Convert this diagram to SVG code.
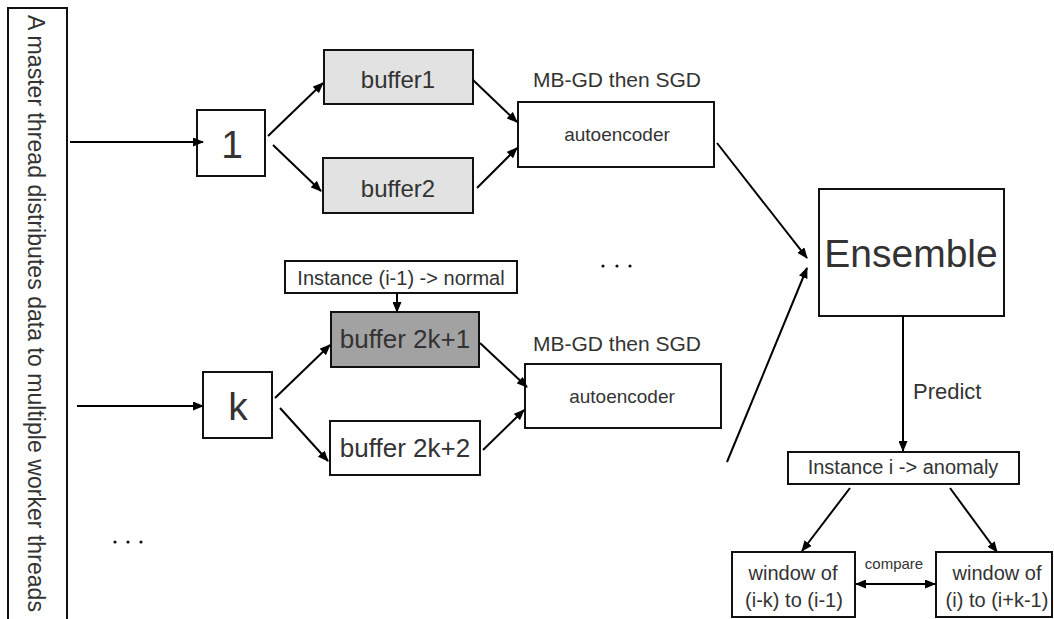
<svg xmlns="http://www.w3.org/2000/svg" width="1054" height="619" viewBox="0 0 1054 619">
<defs>
<marker id="ah" markerUnits="userSpaceOnUse" markerWidth="11" markerHeight="9" refX="10" refY="4.5" orient="auto-start-reverse" viewBox="0 0 11 9">
<path d="M0,0 L11,4.5 L0,9 z" fill="#000"/>
</marker>
<style>
.box{fill:#fff;stroke:#111;stroke-width:2}
.light{fill:#e2e2e2}
.dark{fill:#a2a2a2}
.t{font-family:"Liberation Sans",Arial,sans-serif;fill:#333;text-anchor:middle}
.c line{stroke:#000;stroke-width:2;marker-end:url(#ah)}
.dot{fill:#111}
</style>
</defs>
<rect width="1054" height="619" fill="#fff"/>

<g id="master">
<rect class="box" x="8" y="8" width="59" height="620"/>
<text class="t" style="text-anchor:start" font-size="23" transform="translate(28,15) rotate(90)" textLength="597" lengthAdjust="spacingAndGlyphs">A master thread distributes data to multiple worker threads</text>
</g>

<g id="node1">
<rect class="box" x="197" y="110" width="68" height="66"/>
<text class="t" x="232" y="158" font-size="39">1</text>
</g>
<g id="buffer1">
<rect class="box light" x="324" y="50" width="149" height="54"/>
<text class="t" x="398" y="88" font-size="24">buffer1</text>
</g>
<g id="buffer2">
<rect class="box light" x="323" y="158" width="150" height="55"/>
<text class="t" x="398" y="197" font-size="24">buffer2</text>
</g>
<g id="autoencoder1">
<text class="t" x="617" y="87" font-size="21">MB-GD then SGD</text>
<rect class="box" x="518" y="102" width="196" height="65"/>
<text class="t" x="617" y="141" font-size="19">autoencoder</text>
</g>

<g id="dots-mid">
<circle class="dot" cx="603" cy="266" r="1.6"/><circle class="dot" cx="617" cy="266" r="1.6"/><circle class="dot" cx="630" cy="266" r="1.6"/>
</g>
<g id="dots-bottom">
<circle class="dot" cx="115" cy="542" r="1.6"/><circle class="dot" cx="128" cy="542" r="1.6"/><circle class="dot" cx="141" cy="542" r="1.6"/>
</g>

<g id="instance-normal">
<rect class="box" x="285" y="261" width="232" height="32"/>
<text class="t" x="401" y="285" font-size="20">Instance (i-1) -&gt; normal</text>
</g>
<g id="nodek">
<rect class="box" x="203" y="372" width="69" height="66"/>
<text class="t" x="238" y="420" font-size="39">k</text>
</g>
<g id="buffer2k1">
<rect class="box dark" x="331" y="312" width="148" height="55"/>
<text class="t" x="405" y="348" font-size="26">buffer 2k+1</text>
</g>
<g id="buffer2k2">
<rect class="box" x="330" y="421" width="150" height="54"/>
<text class="t" x="405" y="457" font-size="26">buffer 2k+2</text>
</g>
<g id="autoencoder2">
<text class="t" x="617" y="351" font-size="21">MB-GD then SGD</text>
<rect class="box" x="525" y="364" width="196" height="64"/>
<text class="t" x="622" y="403" font-size="19">autoencoder</text>
</g>

<g id="ensemble">
<rect class="box" x="819" y="189" width="185" height="127"/>
<text class="t" x="911" y="267" font-size="39">Ensemble</text>
</g>
<g id="predict-label">
<text class="t" style="text-anchor:start" x="913" y="399" font-size="22">Predict</text>
</g>
<g id="instance-anomaly">
<rect class="box" x="788" y="452" width="231" height="32"/>
<text class="t" x="903" y="474" font-size="20">Instance i -&gt; anomaly</text>
</g>
<g id="window-left">
<rect class="box" x="732" y="552" width="123" height="65"/>
<text class="t" x="793" y="580" font-size="20">window of</text>
<text class="t" x="794" y="607" font-size="20">(i-k) to (i-1)</text>
</g>
<g id="window-right">
<rect class="box" x="936" y="552" width="116" height="65"/>
<text class="t" x="997" y="580" font-size="20">window of</text>
<text class="t" x="997" y="607" font-size="20">(i) to (i+k-1)</text>
</g>
<g id="compare-label">
<text class="t" x="894" y="569" font-size="15">compare</text>
</g>

<g id="connectors" class="c">
<line x1="70" y1="142" x2="203" y2="142"/>
<line x1="268" y1="136" x2="323" y2="83"/>
<line x1="273" y1="145" x2="321" y2="191"/>
<line x1="473" y1="80" x2="517" y2="122"/>
<line x1="477" y1="188" x2="517" y2="148"/>
<line x1="717" y1="143" x2="807" y2="258"/>
<line x1="727" y1="462" x2="807" y2="268"/>
<line x1="903" y1="316" x2="903" y2="451"/>
<line x1="77" y1="406" x2="203" y2="406"/>
<line x1="275" y1="398" x2="330" y2="345"/>
<line x1="280" y1="408" x2="328" y2="461"/>
<line x1="480" y1="343" x2="527" y2="387"/>
<line x1="483" y1="450" x2="524" y2="410"/>
<line x1="397" y1="293" x2="397" y2="312"/>
<line x1="850" y1="488" x2="802" y2="551"/>
<line x1="950" y1="488" x2="997" y2="552"/>
<line x1="856" y1="584" x2="935" y2="584" style="marker-start:url(#ah)"/>
</g>
</svg>
